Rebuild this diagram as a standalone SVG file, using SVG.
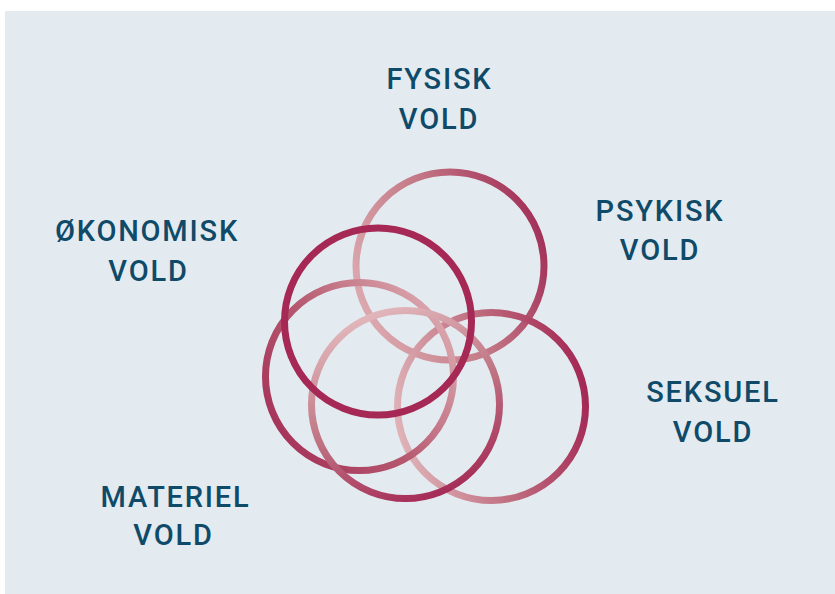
<svg xmlns="http://www.w3.org/2000/svg" width="835" height="594" viewBox="0 0 835 594">
<style>
.lbl{font-family:Roboto,"Liberation Sans",Arial,sans-serif;font-weight:500;font-size:29px;letter-spacing:1.8px;fill:#0f4a68;text-anchor:middle}
.ring{fill:none;stroke-width:7}
</style>
<defs>
<linearGradient id="gFys" x1="0" y1="0.7" x2="1" y2="0.3">
<stop offset="0" stop-color="#dcaab0"/><stop offset="0.5" stop-color="#c47a87"/><stop offset="1" stop-color="#a22f58"/>
</linearGradient>
<linearGradient id="gSek" x1="0" y1="0.6" x2="1" y2="0.4">
<stop offset="0" stop-color="#deb2b7"/><stop offset="0.5" stop-color="#c06f80"/><stop offset="1" stop-color="#a42955"/>
</linearGradient>
<linearGradient id="gMat" x1="0" y1="0.85" x2="1" y2="0.15">
<stop offset="0" stop-color="#a42e57"/><stop offset="0.45" stop-color="#b5586f"/><stop offset="1" stop-color="#dfb0b5"/>
</linearGradient>
<linearGradient id="gMid" x1="0.3" y1="0" x2="0.7" y2="1">
<stop offset="0" stop-color="#e2b9bd"/><stop offset="0.5" stop-color="#c07584"/><stop offset="1" stop-color="#a42955"/>
</linearGradient>
</defs>
<rect x="5" y="11" width="830" height="583" fill="#e3ebf1"/>
<g id="rings">
<circle id="ring-fysisk" class="ring" cx="450" cy="266" r="94" stroke="url(#gFys)"/>
<circle id="ring-seksuel" class="ring" cx="491.5" cy="406.5" r="94" stroke="url(#gSek)"/>
<circle id="ring-materiel" class="ring" cx="359.5" cy="376.5" r="94" stroke="url(#gMat)"/>
<circle id="ring-mid" class="ring" cx="405.5" cy="404.5" r="94" stroke="url(#gMid)"/>
<circle id="ring-okonomisk" class="ring" cx="378" cy="321.5" r="93.5" stroke="#a52855" stroke-width="7.5"/>
</g>
<g id="fysisk"><text class="lbl" x="439.5" y="89">FYSISK</text><text class="lbl" x="439" y="129">VOLD</text></g>
<g id="psykisk"><text class="lbl" x="660" y="221">PSYKISK</text><text class="lbl" x="660" y="260">VOLD</text></g>
<g id="okonomisk"><text class="lbl" x="147" y="241">ØKONOMISK</text><text class="lbl" x="148.5" y="281">VOLD</text></g>
<g id="seksuel"><text class="lbl" x="713" y="402">SEKSUEL</text><text class="lbl" x="713" y="442">VOLD</text></g>
<g id="materiel"><text class="lbl" x="175.5" y="507">MATERIEL</text><text class="lbl" x="173.5" y="545">VOLD</text></g>
</svg>
